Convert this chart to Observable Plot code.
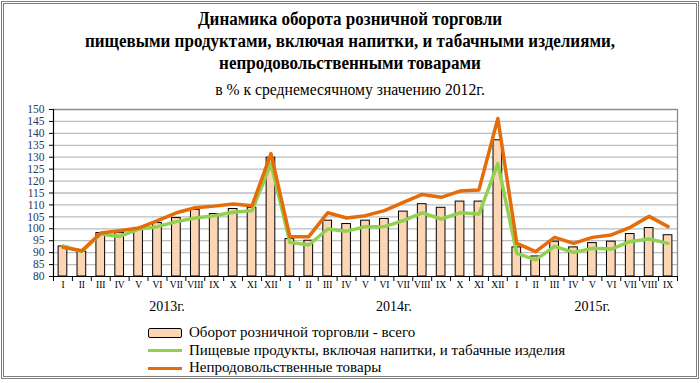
<!DOCTYPE html>
<html><head><meta charset="utf-8">
<script src="https://cdn.jsdelivr.net/npm/d3@7"></script>
<script src="https://cdn.jsdelivr.net/npm/@observablehq/plot@0.6"></script>
<style>
html,body{margin:0;padding:0;background:#fff;}
#wrap{position:relative;width:700px;height:383px;overflow:hidden;font-family:"Liberation Serif","Times New Roman",serif;}
#frame{position:absolute;left:1px;top:1px;width:692px;height:372px;border:3px double #7f7f7f;}
#title{position:absolute;left:0;top:8px;width:700px;text-align:center;font-weight:bold;font-size:18.5px;line-height:22px;color:#000;transform:scaleX(0.92);transform-origin:350px 0;}
#sub{position:absolute;left:0;top:80px;width:700px;text-align:center;font-size:16.5px;color:#000;transform:scaleX(0.95);transform-origin:350px 0;}
#chart{position:absolute;left:0;top:100px;}
#legend{position:absolute;left:148px;top:324px;font-size:15px;line-height:17.7px;color:#000;}
.row{display:flex;align-items:center;height:17.7px;}
.sw{width:34px;margin-right:7px;box-sizing:border-box;}
</style></head>
<body>
<div id="wrap">
<div id="frame"></div>
<div id="title">Динамика оборота розничной торговли<br>пищевыми продуктами, включая напитки, и табачными изделиями,<br>непродовольственными товарами</div>
<div id="sub">в % к среднемесячному значению 2012г.</div>
<div id="chart"></div>
<div id="legend"></div>
</div>
<script>
const months = ["I","II","III","IV","V","VI","VII","VIII","IX","X","XI","XII",
  "I","II","III","IV","V","VI","VII","VIII","IX","X","XI","XII",
  "I","II","III","IV","V","VI","VII","VIII","IX"];
const years = ["2013г.","2014г.","2015г."];
const yearCenters = [5.5, 17.5, 28];
const total = [92.6,90.4,98.2,98.2,100,102.4,104.5,107.9,106.2,108.3,108.8,129.8,
  95.7,95.0,103.4,102,103.4,104.1,107.2,110.3,108.8,111.4,111.4,137.1,
  92.2,88.4,94.6,92.2,94.0,94.6,97.8,100.3,97.3];
const food = [92.8,90.5,97.8,96.8,99.9,100.9,103,104.5,105.5,106.9,107.6,127.3,
  94.3,93.2,99.9,99,100.9,100.9,103.4,106.7,104.1,106.7,106.2,127.3,
  89.7,87,92.6,90.1,91.8,91.5,94.7,95.7,93.9];
const nonfood = [92.2,90.8,98.2,99.2,100.3,103.4,106.7,108.8,109.5,110.4,109.7,131.5,
  96.7,96.7,106.7,104.5,105.5,107.6,111.1,114.4,113.2,115.8,116.3,146.2,
  93.9,90.4,96.4,93.9,96.4,97.4,100.6,105.2,100.9];
const seriesNames = ["Оборот розничной торговли - всего",
  "Пищевые продукты, включая напитки, и табачные изделия",
  "Непродовольственные товары"];
const colors = {bar:"#FCD5B4", food:"#92D050", nonfood:"#E46C0A"};

const idx = months.map((m,i)=>i);
const data = idx.map(i=>({i, total: total[i], food: food[i], nonfood: nonfood[i]}));
const yTicks = d3.range(80, 151, 5);
const bounds = d3.range(-0.5, months.length, 1);

const chart = Plot.plot({
  width: 700, height: 220,
  marginLeft: 53, marginRight: 23, marginTop: 9, marginBottom: 44,
  style: {fontFamily: '"Liberation Serif","Times New Roman",serif', background: "transparent"},
  x: {type: "linear", domain: [-0.5, months.length - 0.5], label: null},
  y: {domain: [80, 150], label: null},
  marks: [
    Plot.ruleY(yTicks.filter(v=>v>80 && v<150), {stroke: "#bdbdbd", strokeWidth: 1.3}),
    Plot.ruleY([150], {stroke: "#8c8c8c", strokeWidth: 1.3}),
    Plot.ruleX([months.length - 0.5], {stroke: "#8c8c8c", strokeWidth: 1.3}),
    Plot.rectY(data, {x1: d=>d.i-0.23, x2: d=>d.i+0.23, y1: ()=>80, y2: "total", fill: colors.bar, stroke: "#000", strokeWidth: 1}),
    Plot.line(data, {x: "i", y: "food", stroke: colors.food, strokeWidth: 3.5}),
    Plot.line(data, {x: "i", y: "nonfood", stroke: colors.nonfood, strokeWidth: 3.5}),
    Plot.ruleY([80], {stroke: "#000", strokeWidth: 1.2}),
    Plot.ruleX([-0.5], {stroke: "#000", strokeWidth: 1.2}),
    Plot.axisY({ticks: yTicks, tickSize: 4, tickFormat: ()=>"", stroke: "#000", label: null}),
    Plot.axisY({ticks: yTicks, tickSize: 0, tickPadding: 9, fontSize: 11.5, fill: "#1F3864", tickFormat: d=>String(d), label: null}),
    Plot.axisX({ticks: bounds, tickSize: 5, tickFormat: ()=>"", stroke: "#000", label: null}),
    Plot.axisX({ticks: idx, tickSize: 0, tickPadding: 5, fontSize: 9.5, tickFormat: i=>months[i], label: null}),
    Plot.axisX({ticks: yearCenters, tickSize: 0, tickPadding: 25, fontSize: 14, tickFormat: d=>years[yearCenters.indexOf(d)], label: null})
  ]
});
document.getElementById("chart").appendChild(chart);

const leg = document.getElementById("legend");
const legendItems = [
  {name: seriesNames[0], sw: `<div class="sw" style="height:10px;border:1.2px solid #000;border-radius:2px;background:${colors.bar}"></div>`},
  {name: seriesNames[1], sw: `<div class="sw" style="height:3px;background:${colors.food}"></div>`},
  {name: seriesNames[2], sw: `<div class="sw" style="height:3px;background:${colors.nonfood}"></div>`}
];
leg.innerHTML = legendItems.map(it=>`<div class="row">${it.sw}<span>${it.name}</span></div>`).join("");
</script>
</body></html>
